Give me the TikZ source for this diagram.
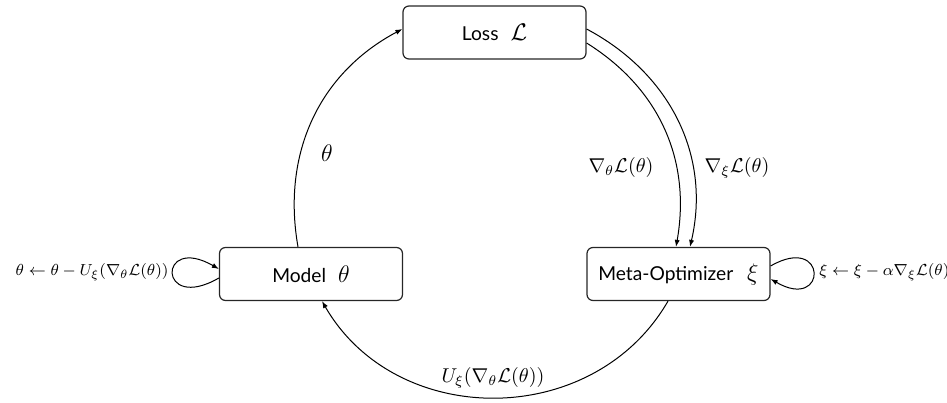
\documentclass[tikz,border=0pt]{standalone}
\usepackage{amsmath,amssymb}
\usepackage{fontspec}
\newfontfamily\boxfont{Lato}
\usepackage{tikz}
\usetikzlibrary{arrows.meta,positioning,calc}

\begin{document}
\begin{tikzpicture}[x=0.5pt,y=0.5pt,
    >={Latex[length=3.5pt,width=2.6pt]},
    block/.style={draw=black!85,line width=0.6pt,rounded corners=3pt,
      minimum width=91.5pt,minimum height=26.5pt,font=\boxfont\fontsize{9.6}{11}\selectfont},
    biglbl/.style={font=\fontsize{10.2}{12}\selectfont},
    smalllbl/.style={font=\fontsize{8}{10}\selectfont,inner sep=0.5pt}]
        \useasboundingbox (0,0) rectangle (947,402);
        % the three blocks
        \node[block] (loss) at (494.5,369.5) {Loss\hspace{6pt}{\fontsize{13}{14}\selectfont$\mathcal{L}$}};
        \node[block] (model) at (311,128) {Model\hspace{6pt}{\fontsize{13}{14}\selectfont$\theta$}};
        \node[block] (meta) at (678.5,128) {Meta-Optimizer\hspace{7pt}{\fontsize{13}{14}\selectfont$\xi$}};
        % cycle
        \draw[->,line width=0.5pt] ([xshift=-6.5pt]model.north) to[out=100,in=208] ([yshift=1.75pt]loss.west);
        \node[font=\fontsize{12.5}{14}\selectfont] (thetalbl) at (327,249) {$\theta$};
        \draw[->,line width=0.5pt] ([yshift=-5.25pt]loss.east) to[out=-32,in=80] ([xshift=-1.25pt]meta.north);
        \draw[->,line width=0.5pt] ([yshift=1.75pt]loss.east) to[out=-28,in=77] ([xshift=5.75pt]meta.north);
        \node[biglbl] (gradtheta) at (621,234) {$\nabla_\theta\mathcal{L}(\theta)$};
        \node[biglbl] (gradxi) at (737,234) {$\nabla_\xi\mathcal{L}(\theta)$};
        \draw[->,line width=0.5pt] ([xshift=-5.25pt]meta.south) to[out=240,in=300,looseness=1.1] ([xshift=5.5pt]model.south);
        \node[biglbl] (updlbl) at (493,24) {$U_\xi(\nabla_\theta\mathcal{L}(\theta))$};
        % self updates
        \draw[->,line width=0.5pt] ([yshift=-2pt]model.west) .. controls +(210:35.5pt) and +(150:35.5pt) .. ([yshift=2.5pt]model.west);
        \node[smalllbl,anchor=east] (modelupd) at (170,130) {$\theta \leftarrow \theta - U_\xi(\nabla_\theta\mathcal{L}(\theta))$};
        \draw[->,line width=0.5pt] ([yshift=4pt]meta.east) .. controls +(30:33pt) and +(-30:33pt) .. ([yshift=-2.5pt]meta.east);
        \node[smalllbl,anchor=west] (metaupd) at (818,130) {$\xi \leftarrow \xi - \alpha\nabla_\xi\mathcal{L}(\theta)$};
      \end{tikzpicture}
\end{document}
